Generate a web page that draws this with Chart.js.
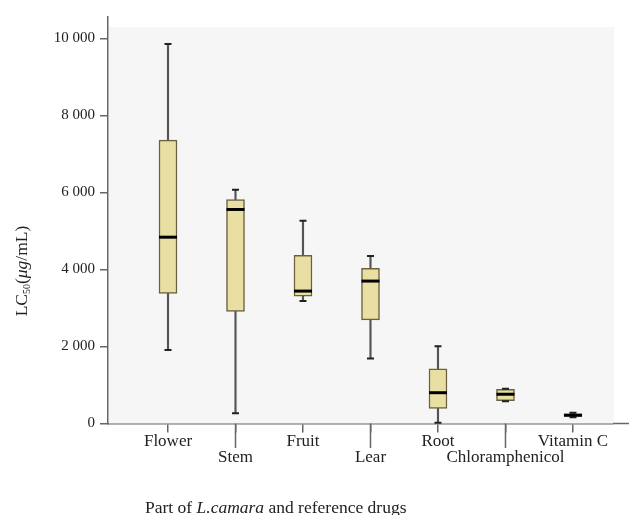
<!DOCTYPE html>
<html>
<head>
<meta charset="utf-8">
<script src="https://cdn.jsdelivr.net/npm/chart.js@4.4.0/dist/chart.umd.min.js"></script>
<style>
  html, body { margin: 0; padding: 0; background: #fff; }
  #wrap { width: 629px; height: 515px; }
</style>
</head>
<body>
<div id="wrap"><canvas id="myChart" width="629" height="515"></canvas></div>
<script>
// data
const categories = ['Flower', 'Stem', 'Fruit', 'Lear', 'Root', 'Chloramphenicol', 'Vitamin C']
const mins = [1910, 265, 3180, 1690, 20, 580, 160]
const q1s = [3380, 2910, 3310, 2690, 390, 595, 185]
const medians = [4840, 5560, 3440, 3700, 800, 760, 215]
const q3s = [7360, 5820, 4370, 4030, 1420, 885, 250]
const maxs = [9860, 6070, 5270, 4350, 2010, 900, 280]
const yTicks = [0, 2000, 4000, 6000, 8000, 10000]

const serif = '"Liberation Serif", "DejaVu Serif", serif'
const fmt = v => v >= 1000 ? Math.floor(v / 1000) + ' ' + String(v % 1000).padStart(3, '0') : String(v)

const boxData = categories.map((c, i) => ({ x: i, y: [q1s[i], q3s[i]] }))
const whiskerData = categories.map((c, i) => ({ x: i, y: [mins[i], maxs[i]] }))

const boxExtras = {
	id: 'boxExtras',
	beforeDatasetsDraw(chart) {
		const { ctx, chartArea, scales } = chart
		const y = scales.y
		// light plot background
		ctx.save()
		ctx.fillStyle = '#f6f6f6'
		const top = y.getPixelForValue(10300)
		ctx.fillRect(chartArea.left + 1, top, 613 - chartArea.left, chartArea.bottom - top)
		ctx.restore()
	},
	afterDatasetsDraw(chart) {
		const { ctx, scales } = chart
		const x = scales.x
		const y = scales.y
		ctx.save()
		categories.forEach((c, i) => {
			const px = x.getPixelForValue(i)
			// caps
			ctx.strokeStyle = '#222'
			ctx.lineWidth = 2
			ctx.beginPath()
			ctx.moveTo(px - 3.5, y.getPixelForValue(maxs[i]))
			ctx.lineTo(px + 3.5, y.getPixelForValue(maxs[i]))
			ctx.moveTo(px - 3.5, y.getPixelForValue(mins[i]))
			ctx.lineTo(px + 3.5, y.getPixelForValue(mins[i]))
			ctx.stroke()
			// median
			ctx.strokeStyle = '#000'
			ctx.lineWidth = 3
			ctx.beginPath()
			ctx.moveTo(px - 9, y.getPixelForValue(medians[i]))
			ctx.lineTo(px + 9, y.getPixelForValue(medians[i]))
			ctx.stroke()
		})
		ctx.restore()
	},
	afterDraw(chart) {
		const { ctx, chartArea, scales } = chart
		const x = scales.x
		ctx.save()
		// x axis runs past the plot
		ctx.strokeStyle = '#666'
		ctx.lineWidth = 1.5
		ctx.beginPath()
		ctx.moveTo(chartArea.right, chartArea.bottom)
		ctx.lineTo(629, chartArea.bottom)
		ctx.stroke()
		// longer ticks under the staggered labels
		categories.forEach((c, i) => {
			if (i % 2 === 1) {
				const px = x.getPixelForValue(i)
				ctx.beginPath()
				ctx.moveTo(px, chartArea.bottom)
				ctx.lineTo(px, 448)
				ctx.stroke()
			}
		})
		// x title
		ctx.fillStyle = '#222'
		ctx.textBaseline = 'middle'
		ctx.textAlign = 'left'
		let tx = 145
		const parts = [['Part of ', ''], ['L.camara', 'italic '], [' and reference drugs', '']]
		parts.forEach(([t, st]) => {
			ctx.font = st + '17.5px ' + serif
			ctx.fillText(t, tx, 508)
			tx += ctx.measureText(t).width
		})
		// y title, rotated
		ctx.translate(22, 271)
		ctx.rotate(-Math.PI / 2)
		const yparts = [['LC', '17.5px', 0], ['50', '10px', 5], ['(', '17.5px', 0], ['μg', 'italic 17.5px', 0], ['/mL)', '17.5px', 0]]
		let total = 0
		yparts.forEach(([t, f]) => { ctx.font = f + ' ' + serif; total += ctx.measureText(t).width })
		let ty = -total / 2
		yparts.forEach(([t, f, dy]) => {
			ctx.font = f + ' ' + serif
			ctx.fillText(t, ty, dy)
			ty += ctx.measureText(t).width
		})
		ctx.restore()
	},
}

const ctx = document.getElementById('myChart').getContext('2d')
const myChart = new Chart(ctx, {
	type: 'bar',
	data: {
		datasets: [
			{
				label: 'box',
				data: boxData,
				backgroundColor: '#e9dfa2',
				borderColor: '#6b6142',
				borderWidth: 1.5,
				borderSkipped: false,
				barThickness: 18,
				grouped: false,
				order: 0,
			},
			{
				label: 'whisker',
				data: whiskerData,
				backgroundColor: '#555',
				borderWidth: 0,
				barThickness: 1.5,
				grouped: false,
				order: 1,
			},
		],
	},
	options: {
		responsive: false,
		animation: false,
		layout: { padding: { top: 17, right: 16, left: 0, bottom: 0 } },
		plugins: {
			legend: { display: false },
			tooltip: { enabled: false },
		},
		scales: {
			x: {
				type: 'linear',
				offset: false,
				min: -0.889,
				max: 6.593,
				afterBuildTicks: s => { s.ticks = categories.map((c, i) => ({ value: i })) },
				afterFit: s => { s.height = 91.5 },
				border: { color: '#666', width: 1.5 },
				grid: { offset: false, drawOnChartArea: false, tickLength: 9, color: '#666', lineWidth: 1.5 },
				ticks: {
					autoSkip: false,
					maxRotation: 0,
					padding: 1,
					color: '#222',
					font: { family: serif, size: 17, lineHeight: 0.94 },
					callback: (v, i) => (i % 2 === 1 ? ['', categories[i]] : categories[i]),
				},
			},
			y: {
				min: 0,
				max: 10560,
				afterBuildTicks: s => { s.ticks = yTicks.map(v => ({ value: v })) },
				afterFit: s => { s.width = 108 },
				border: { color: '#666', width: 1.5 },
				grid: { drawOnChartArea: false, tickLength: 8, color: '#666', lineWidth: 1.5 },
				ticks: {
					padding: 5,
					color: '#222',
					font: { family: serif, size: 15 },
					callback: v => fmt(v),
				},
			},
		},
	},
	plugins: [boxExtras],
})
</script>
</body>
</html>
